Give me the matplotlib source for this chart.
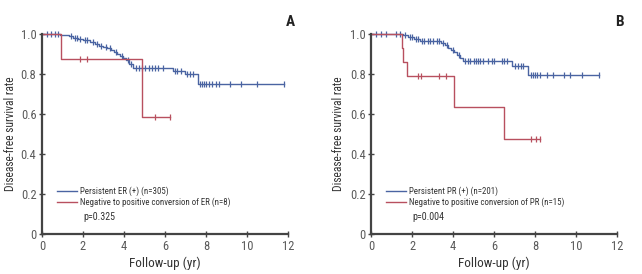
import numpy as np
import matplotlib
matplotlib.use('Agg')
import matplotlib.pyplot as plt

plt.rcParams['font.family'] = ['Roboto Condensed', 'Liberation Sans', 'DejaVu Sans']

# --- data ---
# panel A (ER)
a_blue_t = [0, 0.9, 1.3, 1.5, 1.75, 2.0, 2.35, 2.6, 2.8, 3.0, 3.15, 3.35, 3.5,
            3.65, 3.8, 3.95, 4.1, 4.25, 4.45, 6.4, 7.0, 7.6]
a_blue_s = [1.0, 0.995, 0.99, 0.98, 0.975, 0.97, 0.96, 0.95, 0.94, 0.935, 0.93,
            0.92, 0.91, 0.90, 0.89, 0.88, 0.87, 0.85, 0.83, 0.815, 0.80, 0.75]
a_blue_end = 11.8
a_blue_cens = [0.25, 0.45, 0.65, 0.8, 1.4, 1.6, 1.7, 1.85, 2.1, 2.2, 2.5, 2.7,
               2.9, 3.1, 3.3, 3.6, 3.9, 4.2, 4.35, 4.6, 4.75, 4.9, 5.05, 5.2,
               5.35, 5.5, 5.65, 5.9, 6.5, 6.6, 6.8, 7.1, 7.2, 7.35, 7.7, 7.8,
               7.9, 8.0, 8.15, 8.3, 8.5, 8.65, 9.2, 9.7, 10.5, 11.8]
a_red_t = [0, 0.95, 4.9]
a_red_s = [1.0, 0.875, 0.585]
a_red_end = 6.25
a_red_cens = [1.85, 2.2, 5.5, 6.25]

# panel B (PR)
b_blue_t = [0, 1.55, 1.8, 2.1, 2.4, 3.4, 3.6, 3.75, 3.9, 4.07, 4.2, 4.35, 4.47,
            6.9, 7.65]
b_blue_s = [1.0, 0.995, 0.985, 0.975, 0.965, 0.955, 0.945, 0.93, 0.92, 0.91,
            0.895, 0.88, 0.865, 0.84, 0.795]
b_blue_end = 11.1
b_blue_cens = [0.25, 0.5, 0.75, 1.2, 1.4, 1.65, 1.9, 2.0, 2.2, 2.3, 2.5, 2.6,
               2.8, 2.9, 3.0, 3.2, 3.3, 3.5, 3.7, 4.0, 4.3, 4.6, 4.75, 4.85,
               5.0, 5.1, 5.2, 5.3, 5.45, 5.7, 5.9, 6.0, 6.4, 6.5, 6.65, 7.0,
               7.15, 7.3, 7.4, 7.8, 7.9, 8.0, 8.1, 8.25, 8.6, 8.9, 9.4, 9.7,
               10.3, 11.1]
b_red_t = [0, 1.5, 1.58, 1.76, 4.03, 6.47]
b_red_s = [1.0, 0.93, 0.86, 0.79, 0.635, 0.475]
b_red_end = 8.26
b_red_cens = [2.28, 2.44, 3.33, 3.66, 7.8, 8.05, 8.26]

panels = ['A', 'B']
legend_blue = ['Persistent ER (+) (n=305)', 'Persistent PR (+) (n=201)']
legend_red = ['Negative to positive conversion of ER (n=8)',
              'Negative to positive conversion of PR (n=15)']
pvals = ['p=0.325', 'p=0.004']

blue = '#4a64a2'
red = '#b8505f'
grey = '#5a5a5a'


def km(ax, t, s, end, cens, color):
    tt = list(t) + [end]
    ss = list(s) + [s[-1]]
    ax.step(tt, ss, where='post', color=color, lw=1.0, clip_on=False)
    idx = np.searchsorted(t, cens, side='right') - 1
    ax.plot(cens, np.array(s)[idx], ls='none', marker='|', ms=4, mew=0.9,
            color=color, clip_on=False)


fig = plt.figure(figsize=(6.42, 2.74), dpi=100)
lefts = [0.0654, 0.578]
ylab_x = [-0.10, -0.106]
curves = [
    (a_blue_t, a_blue_s, a_blue_end, a_blue_cens, a_red_t, a_red_s, a_red_end, a_red_cens),
    (b_blue_t, b_blue_s, b_blue_end, b_blue_cens, b_red_t, b_red_s, b_red_end, b_red_cens),
]

for i in range(2):
    ax = fig.add_axes([lefts[i], 0.146, 0.383, 0.730])
    bt, bs, be, bc, rt, rs, re, rc = curves[i]
    km(ax, bt, bs, be, bc, blue)
    km(ax, rt, rs, re, rc, red)

    ax.set_xlim(0, 12)
    ax.set_ylim(0, 1.0)
    ax.set_xticks(range(0, 13, 2))
    ax.set_yticks([0, 0.2, 0.4, 0.6, 0.8, 1.0])
    ax.set_yticklabels(['0', '0.2', '0.4', '0.6', '0.8', '1.0'])
    for side in ['top', 'right']:
        ax.spines[side].set_visible(False)
    for side in ['left', 'bottom']:
        ax.spines[side].set_color('#444444')
        ax.spines[side].set_linewidth(1.6)
    ax.tick_params(direction='inout', length=4, width=1, colors='#444444',
                   labelsize=9, labelcolor=grey, pad=2)
    ax.set_xlabel('Follow-up (yr)', fontsize=9.5, color='#333333', labelpad=3)
    ax.set_ylabel('Disease-free survival rate', fontsize=8.3, color='#333333')
    ax.yaxis.set_label_coords(ylab_x[i], 0.5)

    ax.plot([0.73, 1.7], [0.215, 0.215], color=blue, lw=1)
    ax.plot([0.73, 1.7], [0.16, 0.16], color=red, lw=1)
    ax.text(1.85, 0.215, legend_blue[i], fontsize=6.4, color='#333333',
            va='center')
    ax.text(1.85, 0.16, legend_red[i], fontsize=6.4, color='#333333',
            va='center')
    ax.text(2.0, 0.085, pvals[i], fontsize=7.2, color='#333333', va='center')
    ax.text(12.1, 1.06, panels[i], fontsize=11, fontweight='bold',
            ha='center', va='center', color='#222222', clip_on=False)

fig.savefig('out.png', dpi=100)
